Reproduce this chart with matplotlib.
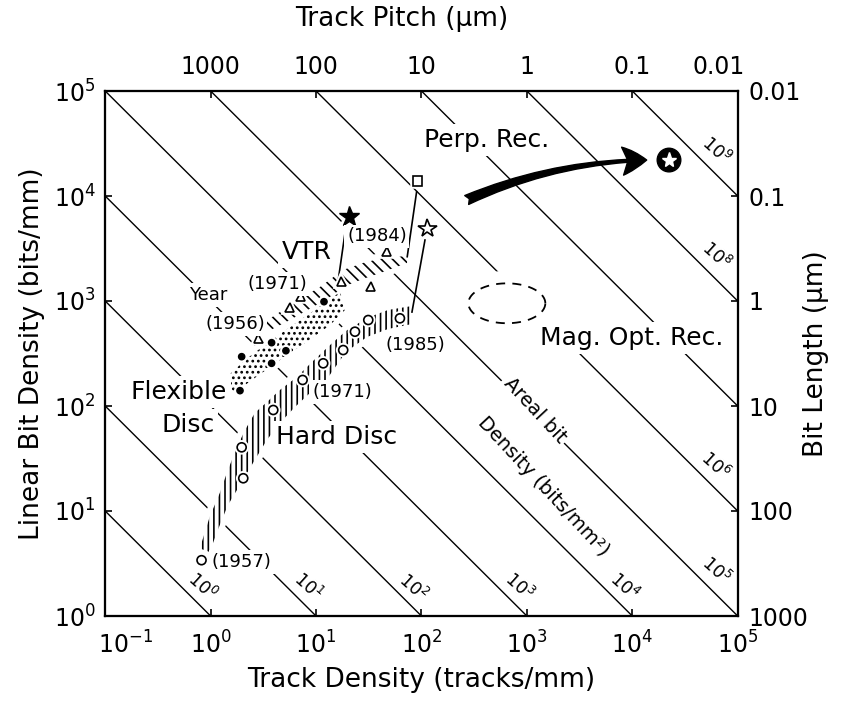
import numpy as np
import matplotlib
matplotlib.use("Agg")
import matplotlib.pyplot as plt
import matplotlib.patheffects as pe
from matplotlib.patches import FancyArrowPatch
from matplotlib.ticker import NullLocator
from matplotlib.transforms import ScaledTranslation

plt.rcParams["font.family"] = "DejaVu Sans"
plt.rcParams["hatch.linewidth"] = 1.2

# ------------------------------------------------------------------
# Values (track density in tracks/mm, bit density in bits/mm)
# ------------------------------------------------------------------
hard_x = [0.82, 1.97, 2.04, 3.93, 7.46, 11.7, 18.1, 23.4, 31.3, 62.5]
hard_y = [3.4, 40.4, 20.5, 91.6, 177, 255, 341, 510, 659, 684]

flex_x = [1.90, 1.97, 3.79, 3.79, 5.18, 11.9]
flex_y = [140, 295, 401, 255, 336, 985]

vtr_x = [2.83, 5.65, 7.14, 17.4, 33.2, 46.8]
vtr_y = [440, 867, 1099, 1550, 1374, 2974]

perp_star = (20.7, 6350)      # filled star
open_star = (114, 4900)       # open star
square_pt = (92, 13900)       # open square
future_pt = (22300, 22000)    # circled star

# thin connectors from the lab points down to the trends
link_star = ([19.5, 16.1], [5690, 1484])
link_square = ([90, 73.3], [11000, 2642])
link_ostar = ([108, 81.3], [3810, 785])

# trend bands (upper edge, lower edge)
hard_up_x = [0.79, 0.98, 1.22, 1.46, 1.78, 2.12, 2.63, 3.42, 4.54, 6.59, 9.35, 13.6, 19.2, 30.4, 48.1, 81.3]
hard_up_y = [4.4, 8.8, 14.8, 24.6, 40.7, 59, 86, 109, 142, 189, 268, 381, 518, 689, 821, 896]
hard_lo_x = [0.98, 1.17, 1.46, 1.90, 2.52, 3.42, 4.54, 6.31, 8.75, 12.7, 19.2, 30.4, 48.1, 81.3]
hard_lo_y = [4.07, 6.59, 11.4, 17.7, 28.6, 47.5, 68.9, 97.8, 133, 181, 327, 454, 541, 604]

vtr_up_x = [2.94, 4.54, 7.03, 10.9, 18.0, 27.9, 43.1, 73]
vtr_up_y = [591, 785, 1045, 1360, 1973, 2303, 2570, 2683]
vtr_lo_x = [3.13, 5.65, 9.35, 14.5, 18.0, 27.9, 43.1, 73]
vtr_lo_y = [485, 659, 877, 1140, 1360, 1622, 1890, 2303]

flex_up_x = [1.40, 2.12, 3.27, 5.65, 9.77, 16.9]
flex_up_y = [185, 274, 381, 565, 821, 1218]
flex_lo_x = [1.66, 2.63, 4.54, 7.85, 13.6, 18.8]
flex_lo_y = [133, 185, 274, 398, 591, 821]

# arrow towards future perpendicular recording, and magneto-optical region
arrow_x = [268.6, 13700]
arrow_y = [9160, 22000]
mo_center = (646, 951)
mo_radius_dec = (0.365, 0.19)

# areal density iso-lines (bits/mm^2) = 10**k
areal_exps = list(range(0, 10))
areal_label_exps = [0, 1, 2, 3, 4, 5, 6, 8, 9]

x_decades = list(range(-1, 6))
y_decades = list(range(0, 6))
pitch_ticks = [1000, 100, 10, 1, 0.1, 0.01]          # um
pitch_labels = ["1000", "100", "10", "1", "0.1", "0.01"]
bitlen_ticks = [1000, 100, 10, 1, 0.1, 0.01]         # um
bitlen_labels = ["1000", "100", "10", "1", "0.1", "0.01"]

# ------------------------------------------------------------------
fig = plt.figure(figsize=(8.47, 7.05), dpi=100)
ax = fig.add_axes([105.2 / 847, 1 - 616 / 705, 632.5 / 847, 525 / 705])
ax.set_xscale("log")
ax.set_yscale("log")
ax.set_xlim(1e-1, 1e5)
ax.set_ylim(1e0, 1e5)
ax.set_xticks([10.0**e for e in x_decades])
ax.set_yticks([10.0**e for e in y_decades])
ax.xaxis.set_minor_locator(NullLocator())
ax.yaxis.set_minor_locator(NullLocator())

# iso-density lines
xx = np.array([1e-1, 1e5])
for k in areal_exps:
    ax.plot(xx, 10.0**k / xx, color="black", lw=1.0, zorder=1)

for k in areal_label_exps:
    if k <= 4:
        end, off = (10.0**k, 1.0), (-6, 21)
    else:
        end, off = (1e5, 10.0**k / 1e5), (-16, 33)
    ax.annotate(r"$10^{%d}$" % k, xy=end, xytext=off, textcoords="offset points",
                ha="center", va="center", rotation=-42, fontsize=12.5, zorder=6)

white_halo = dict(facecolor="white", edgecolor="white", lw=8, zorder=2)


def band(ux, uy, lx, ly, hatch):
    xs = ux + lx[::-1]
    ys = uy + ly[::-1]
    ax.fill(xs, ys, **white_halo)
    ax.fill(xs, ys, facecolor="none", edgecolor="black", lw=0, hatch=hatch, zorder=3)


band(flex_up_x, flex_up_y, flex_lo_x, flex_lo_y, "...")
band(vtr_up_x, vtr_up_y, vtr_lo_x, vtr_lo_y, "\\\\\\")
band(hard_up_x, hard_up_y, hard_lo_x, hard_lo_y, "|||")

# magneto-optical region (dashed ellipse)
t = np.linspace(0, 2 * np.pi, 200)
ell_x = 10 ** (np.log10(mo_center[0]) + mo_radius_dec[0] * np.cos(t))
ell_y = 10 ** (np.log10(mo_center[1]) + mo_radius_dec[1] * np.sin(t))
ax.fill(ell_x, ell_y, facecolor="white", edgecolor="white", lw=18, zorder=2)
ax.plot(ell_x, ell_y, color="black", lw=1.3, ls=(0, (5, 4)), zorder=3)

# connectors
for lx_, ly_ in (link_star, link_square, link_ostar):
    ax.plot(lx_, ly_, color="black", lw=1.2, zorder=4)

halo = [pe.withStroke(linewidth=4, foreground="white")]
mk = dict(ls="none", zorder=5, path_effects=halo)
ax.plot(hard_x, hard_y, marker="o", ms=6.5, mfc="white", mec="black", mew=1.2, **mk)
ax.plot(flex_x, flex_y, marker="o", ms=4.5, mfc="black", mec="black", **mk)
ax.plot(vtr_x, vtr_y, marker="^", ms=6.5, mfc="white", mec="black", mew=1.2, **mk)
ax.plot(*perp_star, marker="*", ms=15, mfc="black", mec="black", **mk)
ax.plot(*open_star, marker="*", ms=14, mfc="white", mec="black", mew=1.2, **mk)
ax.plot(*square_pt, marker="s", ms=7, mfc="white", mec="black", mew=1.2, **mk)
ax.plot(*future_pt, marker="o", ms=17, mfc="black", mec="black", **mk)
ax.plot(*future_pt, marker="*", ms=11, mfc="white", mec="white", ls="none", zorder=6)

arrow = FancyArrowPatch((arrow_x[0], arrow_y[0]), (arrow_x[1], arrow_y[1]),
                        arrowstyle="fancy,head_length=0.62,head_width=0.72,tail_width=0.25",
                        mutation_scale=28, connectionstyle="arc3,rad=-0.1",
                        color="black", shrinkA=0, shrinkB=0, zorder=6)
ax.add_patch(arrow)

# annotations
box = dict(boxstyle="square,pad=0.15", fc="white", ec="none")
big = dict(fontsize=18, ha="center", va="center", zorder=7, bbox=box)
small = dict(fontsize=13, ha="center", va="center", zorder=7, bbox=box)
ax.text(8.2, 2930, "VTR", **big)
ax.text(0.50, 136, "Flexible", **big)
ax.text(0.61, 66, "Disc", **big)
ax.text(15.8, 50.7, "Hard Disc", **big)
ax.text(418, 34100, "Perp. Rec.", **big)
ax.text(9950, 444, "Mag. Opt. Rec.", **big)
ax.text(0.94, 1140, "Year", **small)
ax.text(1.70, 604, "(1956)", **small)
ax.text(4.26, 1452, "(1971)", **small)
ax.text(37.8, 4115, "(1984)", **small)
ax.text(86.7, 381, "(1985)", **small)
ax.text(17.6, 136, "(1971)", **small)
ax.text(1.98, 3.27, "(1957)", **small)
ax.text(1194, 91.6, "Areal bit", fontsize=14, rotation=-47, ha="center", va="center",
        zorder=7, bbox=box)
ax.text(1422, 17.3, "Density (bits/mm²)", fontsize=14, rotation=-47, ha="center",
        va="center", zorder=7, bbox=box)

# axes, ticks, labels
tick_kw = dict(direction="in", length=5, width=1.2, labelsize=17)
ax.tick_params(axis="y", **tick_kw, pad=7)
ax.tick_params(axis="x", **tick_kw, pad=11)
ax.set_xlabel("Track Density (tracks/mm)", fontsize=19, labelpad=6)
ax.set_ylabel("Linear Bit Density (bits/mm)", fontsize=19, labelpad=6)
lab = ax.get_xticklabels()[0]
lab.set_transform(lab.get_transform() + ScaledTranslation(0.2, 0, fig.dpi_scale_trans))

axt = ax.twiny()
axt.set_xscale("log")
axt.set_xlim(ax.get_xlim())
axt.xaxis.set_minor_locator(NullLocator())
axt.set_xticks([1000 / p for p in pitch_ticks])
axt.set_xticklabels(pitch_labels)
axt.tick_params(**tick_kw, pad=9)
axt.set_xlabel("Track Pitch (µm)", fontsize=19)
axt.xaxis.set_label_coords(0.469, 1.124)
lab = axt.get_xticklabels()[-1]
lab.set_transform(lab.get_transform() + ScaledTranslation(-0.19, 0, fig.dpi_scale_trans))

axr = ax.twinx()
axr.set_yscale("log")
axr.set_ylim(ax.get_ylim())
axr.yaxis.set_minor_locator(NullLocator())
axr.set_yticks([1000 / b for b in bitlen_ticks])
axr.set_yticklabels(bitlen_labels)
axr.tick_params(**tick_kw, pad=8)
axr.set_ylabel("Bit Length (µm)", fontsize=19)
axr.yaxis.set_label_coords(1.103, 0.5)

for a in (ax, axt, axr):
    for s in a.spines.values():
        s.set_linewidth(1.5)

fig.savefig("out.png", dpi=100)
